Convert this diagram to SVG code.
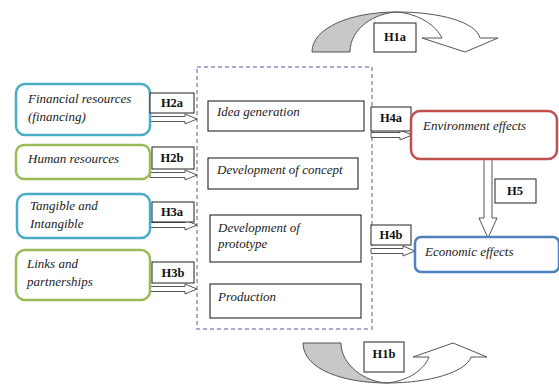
<svg xmlns="http://www.w3.org/2000/svg" width="559" height="385" viewBox="0 0 559 385">
<style>
.lbl{font-family:"Liberation Serif","DejaVu Serif",serif;font-style:italic;font-size:13px;fill:#222}
.h{font-family:"Liberation Serif","DejaVu Serif",serif;font-weight:bold;font-size:12.5px;fill:#111;text-anchor:middle}
.hb{fill:#fff;stroke:#222;stroke-width:1}
.bx{fill:#fff;stroke:#111;stroke-width:1}
.blue{fill:#fff;stroke:#4bacc6;stroke-width:2.5}
.green{fill:#fff;stroke:#9bbb59;stroke-width:2.5}
.red{fill:#fff;stroke:#c0504d;stroke-width:2.5}
.dblue{fill:#fff;stroke:#4f81bd;stroke-width:2.5}
.arr{fill:#fff;stroke:#555;stroke-width:1}
.curvg{fill:#c8c8c8;stroke:#555;stroke-width:1}
.curvw{fill:#fff;stroke:#555;stroke-width:1}
</style>
<rect width="559" height="385" fill="#fff"/>
<g id="container">
<rect x="197" y="67" width="175" height="262" fill="none" stroke="#a08cc4" stroke-width="1.5" stroke-dasharray="4,3"/>
</g>
<g id="connectors">
<g id="h1a-arrow">
<path class="curvg" d="M312,52 C312,28 350,12 397,12 C375,13 350,28 350,52 Z"/>
<path class="curvw" d="M397,12 C440,12 476,22 480,38 L498,38 L465,52 L422,38 L442,38 C436,26 420,14 397,12 Z"/>
</g>
<g id="h1b-arrow">
<path class="curvg" d="M303,343 L341,343 C341,365 365,382 387,383 C345,383 303,370 303,343 Z"/>
<path class="curvw" d="M387,383 C430,383 466,372 471,357 L487,357 L453,343 L413,357 L429,357 C424,370 408,381 387,383 Z"/>
</g>
<polygon class="arr" points="150,116.5 185,116.5 185,114 197,119 185,124 185,121.5 150,121.5"/>
<polygon class="arr" points="150,172.5 185,172.5 185,170 197,175 185,180 185,177.5 150,177.5"/>
<polygon class="arr" points="150,222.5 185,222.5 185,220 197,225 185,230 185,227.5 150,227.5"/>
<polygon class="arr" points="150,286.5 185,286.5 185,284 197,289 185,294 185,291.5 150,291.5"/>
<polygon class="arr" points="371,132.5 400,132.5 400,130 412,135 400,140 400,137.5 371,137.5"/>
<polygon class="arr" points="371,248.5 403,248.5 403,246 415,251 403,256 403,253.5 371,253.5"/>
<polygon class="arr" points="484,159 492,159 492,218 497,218 488,238 479,218 484,218"/>
</g>
<g id="n-financial"><rect class="blue" x="16" y="84" width="134" height="51" rx="9"/>
<text class="lbl" x="28" y="103">Financial resources</text><text class="lbl" x="28" y="121">(financing)</text></g>
<g id="n-human"><rect class="green" x="16" y="145" width="134" height="34" rx="8"/>
<text class="lbl" x="28" y="163">Human resources</text></g>
<g id="n-tangible"><rect class="blue" x="17" y="194" width="133" height="44" rx="9"/>
<text class="lbl" x="30" y="210">Tangible and</text><text class="lbl" x="30" y="228">Intangible</text></g>
<g id="n-links"><rect class="green" x="16" y="250" width="134" height="50" rx="9"/>
<text class="lbl" x="27" y="268">Links and</text><text class="lbl" x="27" y="286">partnerships</text></g>
<g id="h2a"><rect class="hb" x="150" y="93" width="44" height="20"/><text class="h" x="172" y="107">H2a</text></g>
<g id="h2b"><rect class="hb" x="152" y="147" width="42" height="22"/><text class="h" x="172" y="162">H2b</text></g>
<g id="h3a"><rect class="hb" x="152" y="202" width="42" height="20"/><text class="h" x="172" y="216">H3a</text></g>
<g id="h3b"><rect class="hb" x="152" y="262" width="42" height="21"/><text class="h" x="173" y="277">H3b</text></g>
<g id="n-idea"><rect class="bx" x="208" y="101" width="156" height="30"/><text class="lbl" x="217" y="116">Idea generation</text></g>
<g id="n-concept"><rect class="bx" x="208" y="158" width="150" height="31"/><text class="lbl" x="217" y="174">Development of concept</text></g>
<g id="n-prototype"><rect class="bx" x="210" y="215" width="151" height="47"/><text class="lbl" x="218" y="232">Development of</text><text class="lbl" x="218" y="248">prototype</text></g>
<g id="n-production"><rect class="bx" x="210" y="284" width="151" height="34"/><text class="lbl" x="218" y="301">Production</text></g>
<g id="h4a"><rect class="hb" x="371" y="107" width="40" height="24"/><text class="h" x="391" y="122">H4a</text></g>
<g id="h4b"><rect class="hb" x="371" y="225" width="40" height="20"/><text class="h" x="391" y="239">H4b</text></g>
<g id="n-env"><rect class="red" x="411" y="111" width="146" height="48" rx="9"/><text class="lbl" x="423" y="130">Environment effects</text></g>
<g id="n-eco"><rect class="dblue" x="415" y="237" width="144" height="35" rx="6"/><text class="lbl" x="425" y="256">Economic effects</text></g>
<g id="h5"><rect class="hb" x="495" y="179" width="41" height="24"/><text class="h" x="515" y="195">H5</text></g>
<g id="h1a"><rect class="hb" x="374" y="23" width="42" height="29"/><text class="h" x="395" y="41">H1a</text></g>
<g id="h1b"><rect class="hb" x="364" y="342" width="40" height="30"/><text class="h" x="384" y="358">H1b</text></g>
</svg>
